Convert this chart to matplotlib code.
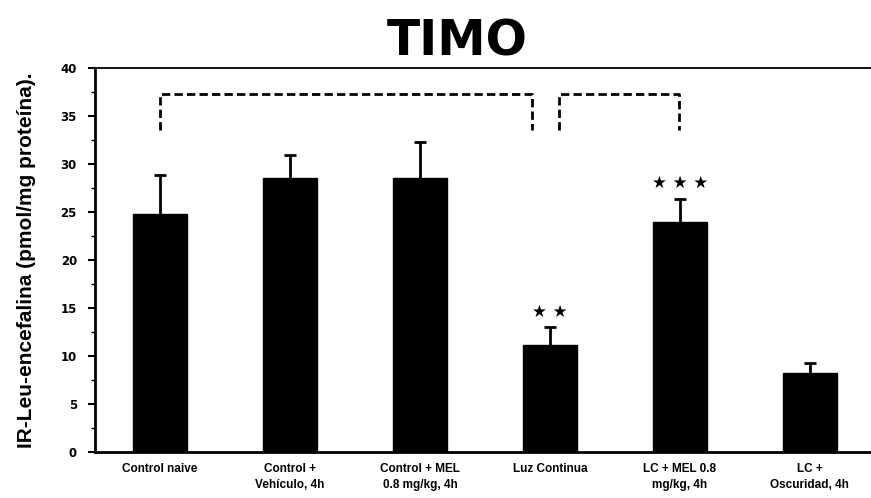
import numpy as np
import matplotlib.pyplot as plt

grupos = ['Control naive', 'Control +\nVehículo, 4h', 'Control + MEL\n0.8 mg/kg, 4h',
          'Luz Continua', 'LC + MEL 0.8\nmg/kg, 4h', 'LC +\nOscuridad, 4h']
medias = [24.8, 28.5, 28.5, 11.1, 24.0, 8.2]
errores = [4.1, 2.4, 3.8, 1.9, 2.4, 1.1]
estrellas = ['', '', '', '**', '***', '']

fig = plt.figure(figsize=(8.71, 4.98), dpi=100)
ax = fig.add_axes([0.109, 0.0924, 0.891, 0.771])

x = np.arange(len(grupos))
ax.bar(x, medias, width=0.415, color='black', edgecolor='black', zorder=2)
eb = ax.errorbar(x, medias, yerr=[np.zeros(len(errores)), errores], fmt='none',
                 ecolor='black', elinewidth=2, capsize=4.5, capthick=2, zorder=1)
eb[1][0].set_visible(False)  # sin tapa inferior

for i in range(len(grupos)):
    if estrellas[i]:
        ax.text(x[i], medias[i] + errores[i] + 0.7, ' '.join('★' * len(estrellas[i])),
                ha='center', va='bottom', fontsize=12, fontweight='bold')

# corchetes de comparacion
ax.plot([0, 0, 2.86, 2.86], [33.5, 37.3, 37.3, 33.5], color='black', lw=2,
        ls=(0, (3, 1.5)))
ax.plot([3.07, 3.07, 3.99, 3.99], [33.5, 37.3, 37.3, 33.5], color='black', lw=2,
        ls=(0, (3, 1.5)))

ax.set_xlim(-0.5, 5.47)
ax.set_ylim(0, 40)
ax.set_yticks(np.arange(0, 41, 5))
ax.set_yticks(np.arange(0, 40, 2.5), minor=True)
ax.set_xticks(x)
ax.set_xticklabels(grupos, fontsize=8.5, fontweight='bold', linespacing=1.45,
                   family='Liberation Sans')
ax.tick_params(axis='x', length=0, pad=8)
ax.tick_params(axis='y', which='major', length=5, width=1.5, labelsize=8.5, pad=8)
ax.tick_params(axis='y', which='minor', length=3, width=1)
for lab in ax.get_yticklabels():
    lab.set_fontweight('heavy')

ax.spines['right'].set_visible(False)
for s in ['left', 'bottom']:
    ax.spines[s].set_linewidth(2)
ax.spines['top'].set_linewidth(1.3)

ax.set_ylabel('IR-Leu-encefalina (pmol/mg proteína).', fontsize=15, fontweight='bold',
              family='Liberation Sans', labelpad=18)

fig.text(0.525, 0.888, 'TIMO', ha='center', va='baseline', fontsize=35, fontweight='bold')

plt.savefig('out.png', dpi=100)
